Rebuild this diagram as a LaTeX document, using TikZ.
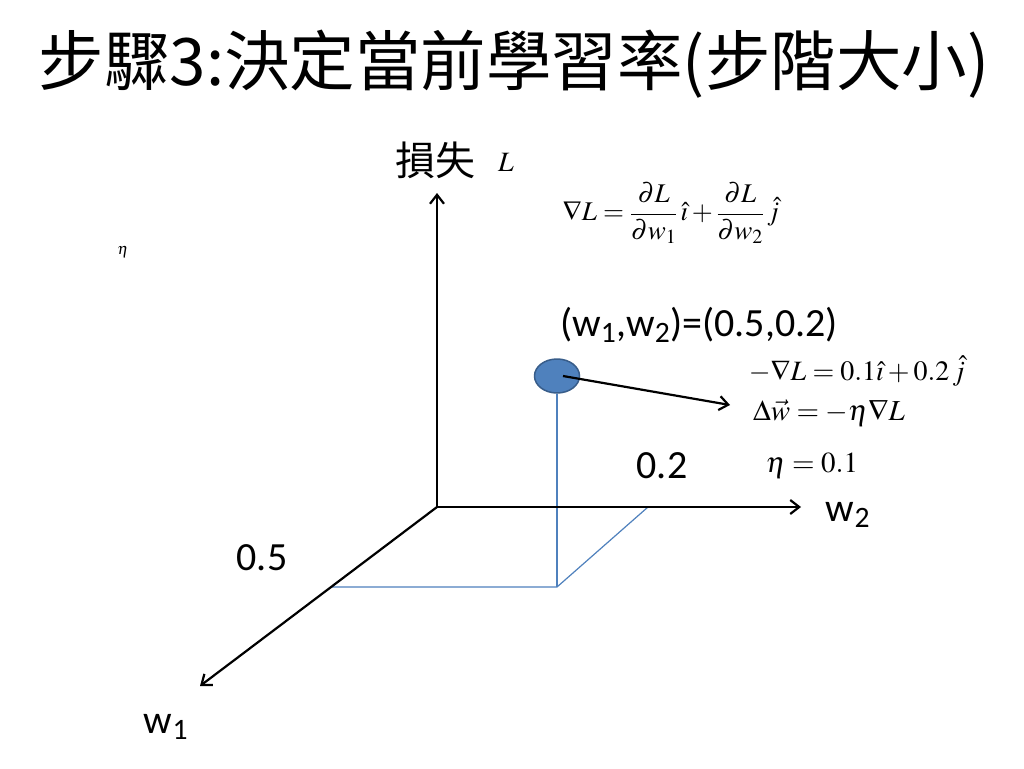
\documentclass[tikz,border=0pt]{standalone}
\usepackage{mathptmx}
\usepackage{fontspec}
\setmainfont{Carlito}
\newfontfamily\cjk{Noto Sans CJK TC}
\usetikzlibrary{arrows.meta,shapes.geometric}
\tikzset{
  axis/.style={line width=2.2pt,-{Straight Barb[length=9pt,width=14pt]}},
  proj/.style={draw={rgb,255:red,79;green,129;blue,189},line width=1.2pt},
  lbl/.style={font=\fontsize{40}{44}\selectfont,inner sep=0pt},
  eq/.style={font=\fontsize{27}{31}\selectfont,inner sep=0pt},
}
\begin{document}
\begin{tikzpicture}[x=1pt,y=-1pt]
\useasboundingbox[fill=white] (0,0) rectangle (1024,768);
\node[inner sep=0pt,font=\cjk\fontsize{65.5}{72}\selectfont] (title) at (514,64) {步驟3:決定當前學習率(步階大小)};
\coordinate (O) at (437,507);
\coordinate (Ltop) at (437,193);
\coordinate (W2end) at (801,507);
\coordinate (W1end) at (200,686);
\coordinate (A) at (330,587);
\coordinate (B) at (557,587);
\coordinate (C) at (648,507);
\node[fill={rgb,255:red,79;green,129;blue,189},draw={rgb,255:red,56;green,93;blue,138},line width=1.5pt,ellipse,minimum width=45pt,minimum height=34pt,inner sep=0pt] (pt) at (557,376) {};
\draw[proj] (pt.south) -- (B);
\draw[proj] (A) -- (B) -- (C);
\draw[axis] (O) -- (Ltop);
\draw[axis] (O) -- (W2end);
\draw[axis] (O) -- (W1end);
\coordinate (ptc) at (563,376);
\coordinate (arrend) at (730,405);
\draw[axis] (ptc) -- (arrend);
\node[inner sep=0pt,font=\cjk\fontsize{40}{44}\selectfont] (loss) at (435,160) {損失};
\node[inner sep=0pt,font=\fontsize{28}{32}\selectfont] (Lsym) at (506,162) {$L$};
\node[eq,font=\fontsize{27}{31}\selectfont] (grad) at (671,213) {$\displaystyle\nabla L=\frac{\partial L}{\partial w_1}\,\hat{\imath}+\frac{\partial L}{\partial w_2}\,\hat{j}$};
\node[inner sep=0pt,font=\fontsize{16}{20}\selectfont] (eta) at (123,252) {$\eta$};
\node[lbl] (ptlabel) at (699,325) {(w\textsubscript{1},w\textsubscript{2})=(0.5,0.2)};
\node[eq,font=\fontsize{28}{32}\selectfont] (neg) at (857,371) {$-\nabla L=0.1\hat{\imath}+0.2\,\hat{j}$};
\node[eq,font=\fontsize{29}{33}\selectfont] (dw) at (829,413) {$\Delta\vec{w}=-\eta\nabla L$};
\node[eq,font=\fontsize{29}{33}\selectfont] (etav) at (812,466) {$\eta=0.1$};
\node[lbl] (v02) at (662,466) {0.2};
\node[lbl] (v05) at (262,558) {0.5};
\node[lbl] (w2) at (848,515) {w\textsubscript{2}};
\node[lbl] (w1) at (166,727) {w\textsubscript{1}};
\end{tikzpicture}
\end{document}
